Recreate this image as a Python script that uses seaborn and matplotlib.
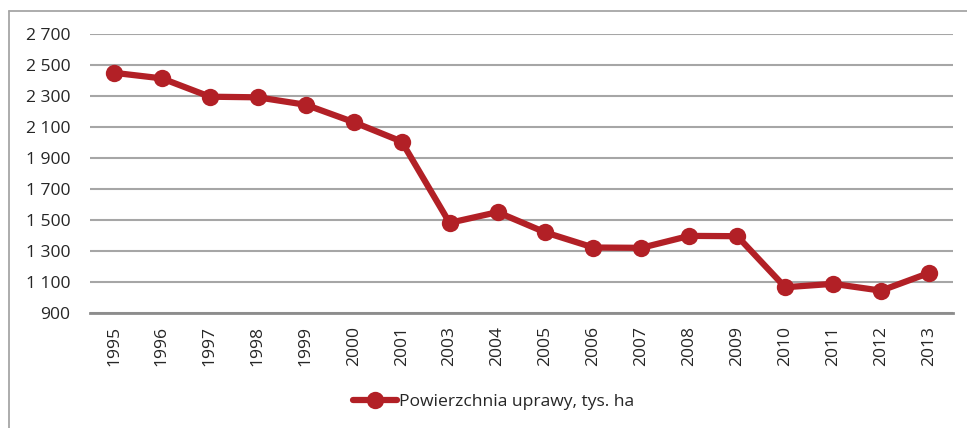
import matplotlib
matplotlib.use('Agg')
import matplotlib.pyplot as plt
import seaborn as sns
import pandas as pd
from matplotlib.lines import Line2D

# data
years = ['1995', '1996', '1997', '1998', '1999', '2000', '2001', '2003', '2004',
         '2005', '2006', '2007', '2008', '2009', '2010', '2011', '2012', '2013']
area = [2448, 2412, 2294, 2290, 2242, 2130, 2005, 1481, 1550,
        1419, 1322, 1320, 1397, 1395, 1066, 1088, 1044, 1158]
y_ticks = [900, 1100, 1300, 1500, 1700, 1900, 2100, 2300, 2500, 2700]
series_name = 'Powierzchnia uprawy, tys. ha'

df = pd.DataFrame({'year': years, 'area': area})

sns.set_style('white')
plt.rcParams['font.family'] = ['Open Sans', 'DejaVu Sans']

RED = '#b22026'
GRID = '#a6a6a6'
FS = 12.6

fig = plt.figure(figsize=(9.67, 4.28), dpi=100)
ax = fig.add_axes([90 / 967, 1 - 313 / 428, 863 / 967, 279.3 / 428])

# grey frame (only left and top edges are visible in the original)
fig.add_artist(Line2D([9 / 967, 9 / 967], [0, 1 - 11 / 428], transform=fig.transFigure,
                      color=GRID, lw=1.3))
fig.add_artist(Line2D([9 / 967, 1], [1 - 11 / 428, 1 - 11 / 428], transform=fig.transFigure,
                      color=GRID, lw=1.3))

x_pos = list(range(len(years)))
sns.lineplot(x=x_pos, y=df['area'], ax=ax, color=RED, linewidth=4.5,
             marker='o', markersize=12.5, markeredgewidth=0, label=series_name)

ax.set_xlim(-0.5, len(years) - 0.5)
ax.set_ylim(900, 2700)
ax.set_yticks(y_ticks)
ax.set_yticklabels([f'{v:,}'.replace(',', ' ') for v in y_ticks], fontsize=FS)
ax.set_xticks(x_pos)
ax.set_xticklabels(years, rotation=90, fontsize=FS)
ax.tick_params(axis='y', length=0, pad=14)
ax.tick_params(axis='x', length=0, pad=9)

ax.grid(axis='y', color=GRID, linewidth=1.5)
ax.set_axisbelow(True)
for s in ['top', 'right', 'left']:
    ax.spines[s].set_visible(False)
ax.spines['bottom'].set_color('#8c8c8c')
ax.spines['bottom'].set_linewidth(2)
ax.set_xlabel('')
ax.set_ylabel('')

leg = ax.legend(loc='center', bbox_to_anchor=(0.4676, -0.3187), frameon=False,
                fontsize=FS, handlelength=2.5, handletextpad=0.1)

fig.savefig('out.png', dpi=100)
plt.close('all')
